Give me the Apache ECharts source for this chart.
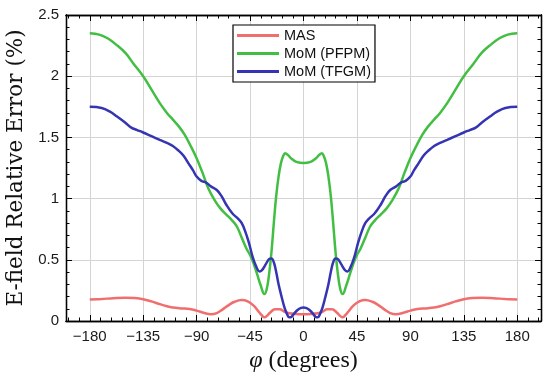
<!DOCTYPE html>
<html>
<head>
<meta charset="utf-8">
<script src="https://cdn.jsdelivr.net/npm/echarts@6/dist/echarts.min.js"></script>
<style>html,body{margin:0;padding:0;background:#fff}#c{width:550px;height:375px}</style>
</head>
<body>
<div id="c"></div>
<script>
// ---- data ----
const seriesNames = ['MAS', 'MoM (PFPM)', 'MoM (TFGM)'];
const xTickValues = [-180, -135, -90, -45, 0, 45, 90, 135, 180];
const xMinorTickValues = [-198,-189,-171,-162,-153,-144,-126,-117,-108,-99,-81,-72,-63,-54,-36,-27,-18,-9,9,18,27,36,54,63,72,81,99,108,117,126,144,153,162,171,189,198];

const phiMAS = [-180,-170,-160,-150,-142,-135,-128,-121,-115,-110,-103,-96,-90,-85,-78,-73,-68,-63,-58,-52,-47,-42,-38,-35,-33,-31,-28,-24,-20,-16,-12,-6,0,
  6,12,16,20,24,28,31,33,35,38,42,47,52,58,63,68,73,78,85,90,96,103,110,115,121,128,135,142,150,160,170,180];
const valMAS = [0.175,0.18,0.186,0.19,0.187,0.178,0.16,0.138,0.12,0.11,0.103,0.098,0.085,0.07,0.055,0.065,0.095,0.13,0.157,0.171,0.16,0.125,0.08,0.045,0.03,0.04,0.07,0.095,0.095,0.075,0.063,0.057,0.055,
  0.057,0.063,0.075,0.095,0.095,0.07,0.04,0.03,0.045,0.08,0.125,0.16,0.171,0.157,0.13,0.095,0.065,0.055,0.07,0.085,0.098,0.103,0.11,0.12,0.138,0.16,0.178,0.187,0.19,0.186,0.18,0.175];

const phiPFPM = [-180,-172,-165,-158,-150,-143,-135,-128,-121,-115,-110,-105,-100,-95,-90,-85,-80,-75,-70,-65,-60,-56,-52,-48,-45,-42,-39,-36,-33,-31,-29,-27,-25,-23,-21,-19,-17,-15.5,-13,-10,-6,0,
  6,10,13,15.5,17,19,21,23,25,27,29,31,33,36,39,42,45,48,52,56,60,65,70,75,80,85,90,95,100,105,110,115,121,128,135,143,150,158,165,172,180];
const valPFPM = [2.35,2.34,2.31,2.26,2.19,2.10,2.00,1.89,1.78,1.70,1.645,1.59,1.52,1.43,1.33,1.21,1.08,0.99,0.92,0.87,0.82,0.77,0.68,0.59,0.54,0.47,0.38,0.29,0.22,0.26,0.38,0.56,0.80,1.02,1.18,1.29,1.35,1.37,1.355,1.325,1.30,1.29,
  1.30,1.325,1.355,1.37,1.35,1.29,1.18,1.02,0.80,0.56,0.38,0.26,0.22,0.29,0.38,0.47,0.54,0.59,0.68,0.77,0.82,0.87,0.92,0.99,1.08,1.21,1.33,1.43,1.52,1.59,1.645,1.70,1.78,1.89,2.00,2.10,2.19,2.26,2.31,2.34,2.35];

const phiTFGM = [-180,-170,-163,-157,-150,-145,-140,-135,-128,-121,-115,-110,-105,-101,-97,-93,-90,-86,-82,-78,-73,-69,-65,-60,-55,-52,-49,-46,-43,-40,-37,-35,-32,-29,-27,-25,-23,-21,-18.5,-16,-14,-12,-10,-8,-5,-2,0,
  2,5,8,10,12,14,16,18.5,21,23,25,27,29,32,35,37,40,43,46,49,52,55,60,65,69,73,78,82,86,90,93,97,101,105,110,115,121,128,135,140,145,150,157,163,170,180];
const valTFGM = [1.75,1.74,1.71,1.67,1.62,1.58,1.56,1.54,1.51,1.48,1.455,1.43,1.39,1.35,1.29,1.23,1.18,1.145,1.13,1.10,1.07,1.02,0.95,0.88,0.835,0.80,0.73,0.64,0.53,0.45,0.405,0.415,0.46,0.505,0.51,0.48,0.40,0.30,0.20,0.11,0.06,0.03,0.035,0.06,0.09,0.107,0.11,
  0.107,0.09,0.06,0.035,0.03,0.06,0.11,0.20,0.30,0.40,0.48,0.51,0.505,0.46,0.415,0.405,0.45,0.53,0.64,0.73,0.80,0.835,0.88,0.95,1.02,1.07,1.10,1.13,1.145,1.18,1.23,1.29,1.35,1.39,1.43,1.455,1.48,1.51,1.54,1.56,1.58,1.62,1.67,1.71,1.74,1.75];

const colors = ['#f06e6e', '#42bf42', '#3535b3'];

function zip(a, b) { return a.map((x, i) => [x, b[i]]); }
const fmtX = v => (v < 0 ? '\u2212' + Math.abs(v) : String(v));

const chart = echarts.init(document.getElementById('c'), null, {renderer: 'canvas'});
const axisColor = '#000';
const labelStyle = {fontFamily: 'Liberation Sans', fontSize: 15, color: '#1a1a1a'};

function xAx(pos, major, withLabel) {
  return {
    type: 'value', min: -200, max: 200, position: pos,
    axisLine: {show: true, onZero: false, lineStyle: {color: axisColor, width: 1.3}},
    axisTick: {show: true, inside: true, length: major ? 6 : 3.5, customValues: major ? xTickValues : xMinorTickValues,
      lineStyle: {color: axisColor, width: 1}},
    axisLabel: withLabel ? Object.assign({show: true, customValues: xTickValues, formatter: fmtX, margin: 8}, labelStyle) : {show: false},
    splitLine: {show: withLabel, lineStyle: {color: '#d4d4d4', width: 1}}
  };
}

const xAxes = [xAx('bottom', true, true), xAx('bottom', false, false), xAx('top', true, false), xAx('top', false, false)];
xAxes[0].name = '{i|\u03C6} (degrees)';
xAxes[0].nameLocation = 'middle';
xAxes[0].nameGap = 17;
xAxes[0].nameTextStyle = {fontFamily: 'Liberation Serif', fontSize: 24, color: '#111',
  rich: {i: {fontFamily: 'Liberation Serif', fontStyle: 'italic', fontSize: 24, color: '#111'}}};

function yAx(pos, major, withLabel) {
  return {
    type: 'value', min: 0, max: 2.5, interval: major ? 0.5 : 0.1, position: pos,
    axisLine: {show: true, onZero: false, lineStyle: {color: axisColor, width: 1.3}},
    axisTick: {show: true, inside: true, length: major ? 6 : 3.5, lineStyle: {color: axisColor, width: 1}},
    axisLabel: withLabel ? Object.assign({show: true, margin: 7}, labelStyle) : {show: false},
    splitLine: {show: withLabel, lineStyle: {color: '#d4d4d4', width: 1}}
  };
}
const yAxes = [yAx('left', true, true), yAx('left', false, false), yAx('right', true, false), yAx('right', false, false)];
yAxes[0].name = 'E-field Relative Error (%)';
yAxes[0].nameLocation = 'middle';
yAxes[0].nameGap = 29;
yAxes[0].nameTextStyle = {fontFamily: 'DejaVu Serif', fontSize: 21.5, color: '#111'};

const data = [zip(phiMAS, valMAS), zip(phiPFPM, valPFPM), zip(phiTFGM, valTFGM)];

chart.setOption({
  animation: false,
  backgroundColor: '#fff',
  grid: {left: 66, right: 9, top: 15, bottom: 54, containLabel: false, outerBoundsMode: 'none'},
  xAxis: xAxes,
  yAxis: yAxes,
  legend: {
    orient: 'vertical', left: 233, top: 25,
    icon: 'rect', itemWidth: 42, itemHeight: 3, itemGap: 1,
    padding: [2, 4, 2, 4],
    borderColor: '#000', borderWidth: 1.2, backgroundColor: '#fff',
    textStyle: {fontFamily: 'Liberation Sans', fontSize: 14.5, color: '#111', lineHeight: 17},
    data: seriesNames
  },
  series: seriesNames.map((n, i) => ({
    name: n, type: 'line', xAxisIndex: 0, yAxisIndex: 0,
    data: data[i], smooth: 0.4, showSymbol: false, symbol: 'none',
    lineStyle: {color: colors[i], width: 2.5},
    itemStyle: {color: colors[i]},
    z: 3 + i
  }))
});
</script>
</body>
</html>
